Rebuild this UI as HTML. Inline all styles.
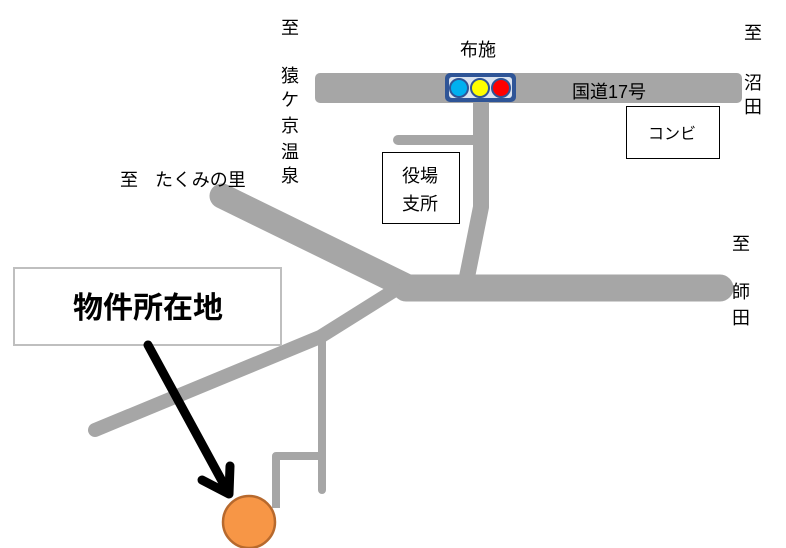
<!DOCTYPE html>
<html><head><meta charset="utf-8"><style>
body{margin:0;background:#fff}
svg{display:block}
text{font-family:"Liberation Sans","Noto Sans CJK JP",sans-serif;fill:#000}
</style></head><body>
<svg width="786" height="548" viewBox="0 0 786 548" xmlns="http://www.w3.org/2000/svg">
<g stroke="#a6a6a6" fill="none" stroke-linejoin="round">
<rect x="315" y="73" width="427" height="30" rx="5" fill="#a6a6a6" stroke="none"/>
<path d="M481 100 L481 207 L463 297" stroke-width="16"/>
<path d="M398 140 L480 140" stroke-width="10" stroke-linecap="round"/>
<path d="M406 288 L720 288" stroke-width="27" stroke-linecap="round"/>
<path d="M222 196 L410 288" stroke-width="25" stroke-linecap="round"/>
<path d="M395 290 L320 337 L95 430" stroke-width="14" stroke-linecap="round"/>
<path d="M322 337 L322 490" stroke-width="8" stroke-linecap="round"/>
<path d="M276 508 L276 456 L322 456" stroke-width="8"/>
</g>
<rect x="445" y="73" width="71" height="29" rx="5" fill="#2f5597"/>
<rect x="449" y="77" width="63" height="21" rx="3" fill="#dbe3ef"/>
<circle cx="459" cy="88" r="9" fill="#00b0f0" stroke="#2f5597" stroke-width="2"/>
<circle cx="480" cy="88" r="9" fill="#ffff00" stroke="#2f5597" stroke-width="2"/>
<circle cx="501" cy="88" r="9" fill="#ff0000" stroke="#2f5597" stroke-width="2"/>
<rect x="382.5" y="152.5" width="77" height="71" fill="#fff" stroke="#000"/>
<rect x="626.5" y="106.5" width="93" height="52" fill="#fff" stroke="#000"/>
<rect x="14" y="268" width="267" height="77" fill="#fff" stroke="#bfbfbf" stroke-width="2"/>
<text x="148" y="318" font-size="30" font-weight="bold" text-anchor="middle">物件所在地</text>
<text x="420" y="182" font-size="18" text-anchor="middle">役場</text>
<text x="420" y="210" font-size="18" text-anchor="middle">支所</text>
<text x="672" y="139" font-size="16" text-anchor="middle">コンビ</text>
<g font-size="18" text-anchor="middle">
<text x="290" y="34">至</text>
<text x="290" y="82">猿</text>
<text x="290" y="106">ケ</text>
<text x="290" y="132">京</text>
<text x="290" y="158">温</text>
<text x="290" y="182">泉</text>
<text x="478" y="56">布施</text>
<text x="753" y="39">至</text>
<text x="753" y="89">沼</text>
<text x="753" y="113">田</text>
<text x="741" y="250">至</text>
<text x="741" y="298">師</text>
<text x="741" y="324">田</text>
</g>
<text x="572" y="98" font-size="18">国道17号</text>
<text x="120" y="186" font-size="18">至</text>
<text x="155" y="186" font-size="18">たくみの里</text>
<path d="M148 345 L228 492" stroke="#000" stroke-width="9" stroke-linecap="round"/>
<path d="M202 480 L229 494 L230 466" stroke="#000" stroke-width="9" fill="none" stroke-linecap="round" stroke-linejoin="round"/>
<circle cx="249" cy="522" r="26" fill="#f79646" stroke="#b7692d" stroke-width="2.5"/>
</svg>
</body></html>
